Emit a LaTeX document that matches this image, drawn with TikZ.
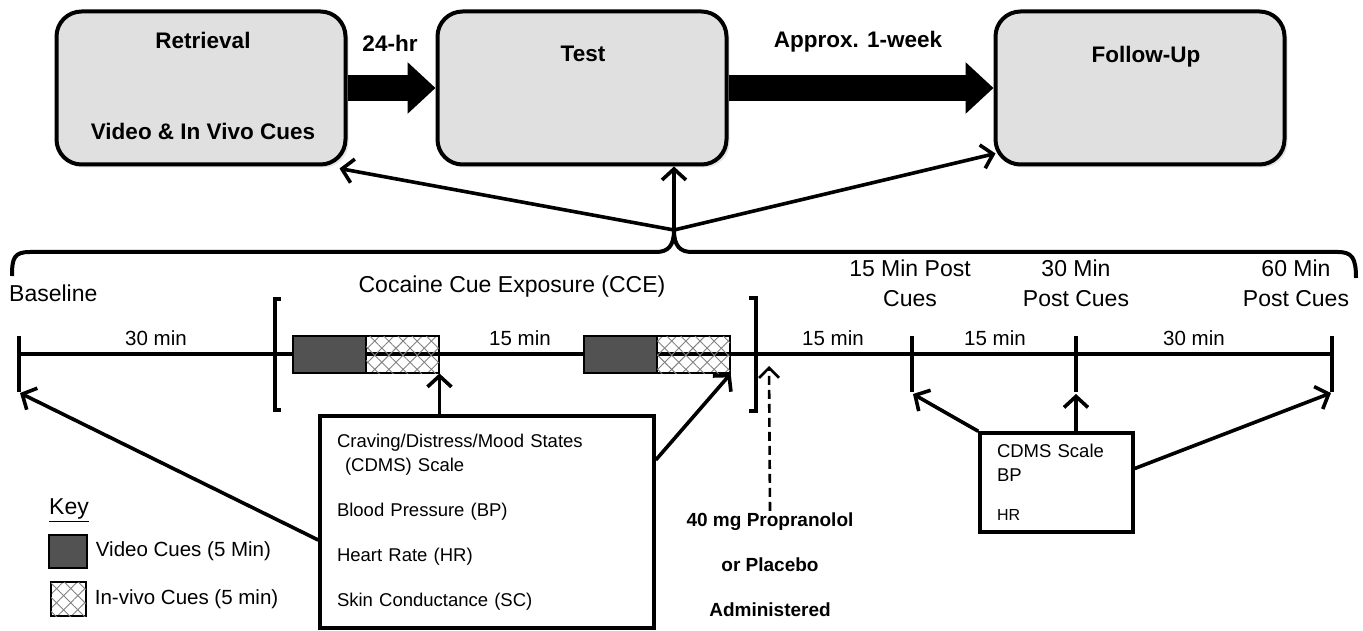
\documentclass[tikz,border=0pt]{standalone}
\usepackage{fontspec}
\setmainfont{Liberation Sans}
\usepackage{tikz}
\usetikzlibrary{arrows.meta,positioning,calc,patterns.meta,shadows}
\definecolor{boxgray}{RGB}{224,224,224}
\definecolor{cuedark}{RGB}{82,82,82}

\begin{document}
\begin{tikzpicture}[x=1pt, y=-1pt,
  phasebox/.style={draw, line width=4pt, rounded corners=25pt, fill=boxgray, minimum width=289pt, minimum height=153pt, inner sep=0pt, drop shadow={shadow xshift=3pt, shadow yshift=-3pt, opacity=0.2}},
  phasetxt/.style={font=\bfseries\fontsize{22.5}{26}\selectfont, inner sep=1pt},
  fatarr/.style={line width=26pt, -{Triangle[length=28pt, width=50pt]}},
  arr/.style={line width=3.6pt, -{Straight Barb[length=11pt, width=24pt]}},
  dasharr/.style={line width=2.6pt, dash pattern=on 9pt off 5pt, -{Straight Barb[length=10pt, width=20pt]}},
  tline/.style={line width=4pt},
  brk/.style={line width=3.5pt},
  videocue/.style={draw, line width=1.4pt, fill=cuedark, minimum width=73pt, minimum height=37pt, inner sep=0pt},
  invivocue/.style={draw, line width=1.4pt, fill=white, minimum width=73pt, minimum height=37pt, inner sep=0pt,
    pattern={Lines[angle=45, distance=10pt, line width=0.9pt]}, pattern color=gray,
    postaction={pattern={Lines[angle=-45, distance=10pt, line width=0.9pt]}, pattern color=gray}},
  measbox/.style={draw, line width=3.5pt, fill=white, align=left, inner xsep=17pt, inner ysep=0pt, font=\fontsize{18.5}{24}\selectfont},
  lbl/.style={font=\fontsize{23}{30}\selectfont, align=center, inner sep=1pt},
  durlbl/.style={font=\fontsize{20.5}{24}\selectfont, inner sep=1pt},
  keytxt/.style={font=\fontsize{20.5}{24}\selectfont, inner sep=0pt, anchor=west},
  drugtxt/.style={font=\bfseries\fontsize{19}{45}\selectfont, align=center, inner sep=2pt}
]
\useasboundingbox (0,0) rectangle (1363,631);

% Phases
\node[phasebox] (retr) at (201,88) {};
\node[phasebox] (test) at (582,88) {};
\node[phasebox] (fu) at (1140,88) {};
\node[phasetxt] (retrtop) at (203,40) {Retrieval};
\node[phasetxt] (retrbot) at (203,131) {Video \& In Vivo Cues};
\node[phasetxt] (testlbl) at (583,54) {Test};
\node[phasetxt] (fulbl) at (1146,57) {Follow-Up};

% Delays
\draw[fatarr] (retr.east) -- (test.west);
\draw[fatarr] (test.east) -- (fu.west);
\node[phasetxt] (lbl24) at (390,43) {24-hr};
\node[phasetxt] (lblwk) at (858,42) {Approx. 1-week};

% Session brace
\coordinate (tip) at (674,230);
\draw[tline] (12,276) .. controls (12,258) and (14,252) .. (30,252) -- (656,252)
  .. controls (668,252) and (674,246) .. (tip)
  .. controls (674,246) and (680,252) .. (692,252) -- (1338,252)
  .. controls (1352,252) and (1356,258) .. (1356,278);
\draw[arr] (tip) -- ($(retr.south east)+(-8,2)$);
\draw[arr] (tip) -- (tip |- test.south);
\draw[arr] (tip) -- ($(fu.south west)+(2,-13)$);

% Time points
\node[lbl, anchor=west] (base) at (8,293) {Baseline};
\node[lbl] (ccelbl) at (512,287) {Cocaine Cue Exposure (CCE)};
\node[lbl] (p15) at (910,283) {15 Min Post\\Cues};
\node[lbl] (p30) at (1076,283) {30 Min\\Post Cues};
\node[lbl] (p60) at (1296,283) {60 Min\\Post Cues};

% Timeline
\coordinate (t0) at (19,354);
\coordinate (t15) at (912,354);
\coordinate (t30) at (1076,354);
\coordinate (t60) at (1332,354);
\draw[tline] (t0) -- (t60);
\foreach \c in {t0,t15,t30,t60}
  \draw[tline] ($(\c)+(0,-18)$) -- ($(\c)+(0,38)$);
\coordinate (b0) at (20,393);
\coordinate (b15) at (913,394);
\coordinate (b30) at (1076,394);
\coordinate (b60) at (1331,393);

% CCE brackets
\draw[brk] (281,299) -- (275,299) -- (275,410) -- (281,410);
\draw[brk] (749,298) -- (756,298) -- (756,411) -- (749,411);

% Cue blocks
\node[videocue] (v1) at (329.5,354.5) {};
\node[invivocue] (h1) at (402.5,354.5) {};
\node[videocue] (v2) at (620.5,354.5) {};
\node[invivocue] (h2) at (693.5,354.5) {};

% Durations
\node[durlbl] (d1) at (156,338) {30 min};
\node[durlbl] (d2) at (520,338) {15 min};
\node[durlbl] (d3) at (833,338) {15 min};
\node[durlbl] (d4) at (995,338) {15 min};
\node[durlbl] (d5) at (1194,338) {30 min};

% Drug
\node[drugtxt] (drug) at (770,565) {40 mg Propranolol\\or Placebo\\Administered};
\coordinate (dose) at (769,366);
\draw[dasharr] (drug.north) -- (dose);

% Measures during CCE
\node[measbox, text width=300pt, minimum height=212pt] (cce) at (487,522)
  {Craving/Distress/Mood States\\
   \hspace*{8pt}(CDMS) Scale\\[21pt]
   Blood Pressure (BP)\\[21pt]
   Heart Rate (HR)\\[21pt]
   Skin Conductance (SC)};
\draw[arr] (cce.north -| h1.south east) -- (h1.south east);
\draw[arr] ($(cce.west)+(0,18)$) -- (b0);
\draw[arr] ($(cce.east)+(0,-62)$) -- (h2.south east);

% Measures post cues
\node[measbox, text width=119pt, minimum height=99pt] (post) at (1056.5,482.5)
  {CDMS Scale\\BP\\[15pt]{\fontsize{16}{16}\selectfont HR}};
\draw[arr] (post.north west) -- (b15);
\draw[arr] (post.north -| b30) -- (b30);
\draw[arr] ($(post.east)+(0,-14)$) -- (b60);

% Key
\node[lbl] (key) at (69,510) {\underline{Key}};
\node[videocue, minimum width=38pt, minimum height=33pt] (kv) at (68,551.5) {};
\node[keytxt, right=8pt of kv] (kvtxt) {Video Cues (5 Min)};
\node[invivocue, minimum width=35pt, minimum height=34pt] (kh) at (68.5,599) {};
\node[keytxt, right=8pt of kh] (khtxt) {In-vivo Cues (5 min)};

\end{tikzpicture}
\end{document}
